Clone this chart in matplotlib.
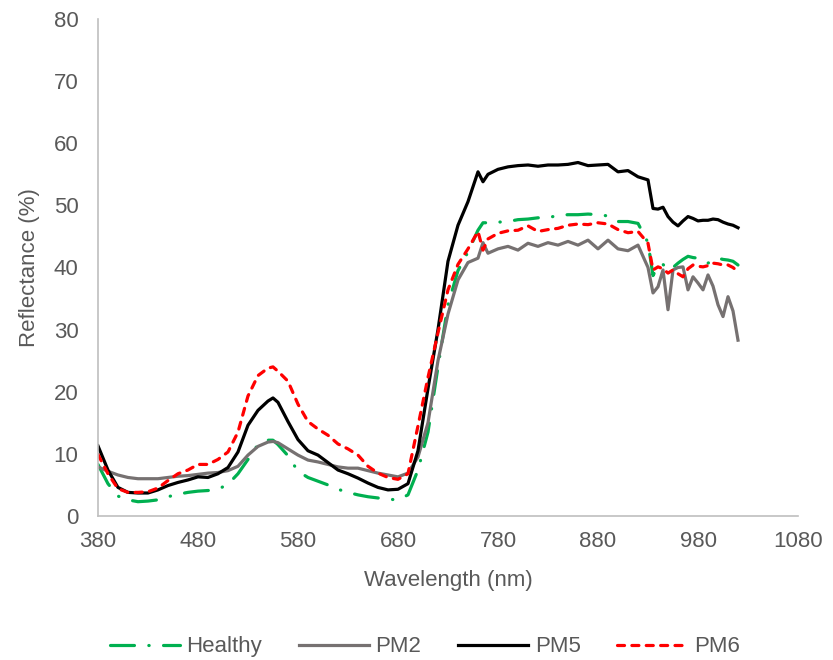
import matplotlib.pyplot as plt

plt.rcParams['font.family'] = ['Liberation Sans', 'DejaVu Sans']

# wavelength grid (nm)
wavelength = ([380, 390, 400, 410, 420, 430, 440, 450, 460, 470, 480, 490, 500, 510, 520, 530, 540, 550, 555]
              + [560, 570, 580, 590, 600, 610, 620, 630, 640, 650, 660, 670, 680, 690, 700, 710, 720, 730, 740, 750, 760, 765]
              + [770, 780, 790, 800, 810, 820, 830, 840, 850, 860, 870, 880, 890, 900, 910, 920, 930]
              + [935, 940, 945, 950, 955, 960, 965, 970, 975, 980, 985, 990, 995, 1000, 1005, 1010, 1015, 1020])

healthy = ([8.3, 5.2, 3.2, 2.6, 2.3, 2.4, 2.6, 3.1, 3.5, 3.8, 4.0, 4.1, 4.3, 5.1, 6.8, 9.1, 11.5, 12.2, 12.2]
           + [11.5, 9.7, 7.2, 6.2, 5.6, 5.0, 4.3, 3.8, 3.4, 3.1, 2.9, 2.7, 2.6, 3.4, 7.4, 13.5, 24.0, 34.0, 39.5, 42.5, 46.0, 47.2]
           + [47.2, 47.3, 47.4, 47.7, 47.8, 48.0, 48.0, 48.4, 48.5, 48.5, 48.6, 48.5, 48.3, 47.4, 47.4, 47.1, 44.0]
           + [38.7, 40.3, 40.5, 39.6, 40.0, 40.7, 41.3, 41.8, 41.6, 41.5, 41.0, 40.7, 41.2, 41.5, 41.3, 41.2, 41.0, 40.4])

pm2 = ([7.9, 7.2, 6.6, 6.2, 6.0, 6.0, 6.0, 6.2, 6.4, 6.5, 6.7, 6.9, 7.0, 7.3, 8.0, 9.8, 11.2, 11.9, 12.0]
       + [11.8, 10.8, 9.8, 9.0, 8.7, 8.3, 7.9, 7.7, 7.7, 7.3, 6.9, 6.6, 6.3, 6.9, 9.5, 15.0, 25.0, 32.5, 38.0, 40.8, 41.5, 44.0]
       + [42.3, 43.0, 43.4, 42.8, 43.9, 43.4, 44.0, 43.6, 44.2, 43.6, 44.4, 43.0, 44.4, 43.0, 42.7, 43.6, 40.0]
       + [35.9, 36.9, 39.6, 33.2, 39.6, 40.0, 40.1, 36.4, 38.5, 37.5, 36.4, 38.8, 37.0, 34.0, 32.1, 35.3, 33.0, 28.3])

pm5 = ([11.3, 7.4, 4.6, 3.8, 3.7, 3.7, 4.2, 4.9, 5.4, 5.8, 6.3, 6.2, 6.8, 7.8, 10.3, 14.6, 17.0, 18.5, 19.0]
       + [18.3, 15.2, 12.3, 10.5, 9.8, 8.6, 7.4, 6.8, 6.1, 5.3, 4.6, 4.2, 4.3, 5.2, 10.5, 20.5, 30.0, 41.0, 46.8, 50.6, 55.4, 53.8]
       + [55.0, 55.8, 56.2, 56.4, 56.5, 56.3, 56.5, 56.5, 56.6, 56.9, 56.4, 56.5, 56.6, 55.4, 55.6, 54.6, 54.1]
       + [49.5, 49.4, 49.7, 48.2, 47.3, 46.7, 47.5, 48.2, 47.9, 47.5, 47.6, 47.6, 47.8, 47.7, 47.3, 47.0, 46.8, 46.4])

pm6 = ([9.9, 6.8, 4.4, 3.8, 3.8, 3.9, 4.5, 5.7, 6.8, 7.4, 8.3, 8.3, 9.1, 10.3, 13.5, 19.3, 22.6, 23.8, 24.0]
       + [23.3, 21.7, 18.0, 15.2, 14.0, 13.0, 11.6, 10.8, 9.8, 8.0, 6.9, 6.2, 5.9, 6.8, 14.5, 22.3, 29.5, 36.4, 40.5, 43.0, 45.8, 42.8]
       + [44.6, 45.5, 45.9, 46.0, 46.7, 45.8, 46.1, 46.3, 46.8, 47.0, 46.9, 47.2, 47.0, 46.1, 45.6, 45.8, 43.9]
       + [39.6, 40.1, 39.8, 39.1, 39.6, 39.0, 38.5, 39.8, 40.4, 40.2, 40.1, 40.3, 40.7, 40.6, 40.4, 40.4, 40.0, 39.3])

xticks = [380, 480, 580, 680, 780, 880, 980, 1080]
yticks = [0, 10, 20, 30, 40, 50, 60, 70, 80]

txt = '#595959'
lw = 2.3
fs = 16

fig = plt.figure(figsize=(8.33, 6.6), dpi=100)
ax = fig.add_axes([0.1176, 0.2182, 0.8404, 0.753])

ax.plot(wavelength, healthy, color='#00B050', lw=lw, dashes=(7.5, 4.5, 0.1, 4.5),
        dash_capstyle='round', label='Healthy')
ax.plot(wavelength, pm2, color='#767171', lw=lw, label='PM2')
ax.plot(wavelength, pm5, color='black', lw=lw, label='PM5')
ax.plot(wavelength, pm6, color='#FF0000', lw=lw, dashes=(2.2, 2.3),
        dash_capstyle='round', label='PM6')

ax.set_xlim(380, 1080)
ax.set_ylim(0, 80)
ax.set_xticks(xticks)
ax.set_yticks(yticks)
ax.tick_params(length=0, labelsize=fs, labelcolor=txt)
ax.tick_params(axis='x', pad=11)
ax.tick_params(axis='y', pad=14)
for s in ['top', 'right']:
    ax.spines[s].set_visible(False)
for s in ['left', 'bottom']:
    ax.spines[s].set_color('#BFBFBF')
    ax.spines[s].set_linewidth(1.2)

ax.set_xlabel('Wavelength (nm)', fontsize=fs, color=txt)
ax.set_ylabel('Reflectance (%)', fontsize=fs, color=txt)
ax.xaxis.set_label_coords(0.5, -0.108)
ax.yaxis.set_label_coords(-0.083, 0.5)

fig.legend(loc='center', bbox_to_anchor=(0.51, 0.02), ncol=4, frameon=False,
           fontsize=fs, labelcolor=txt, handlelength=3.15, columnspacing=1.65, handletextpad=0.3)

fig.savefig('out.png', dpi=100)
